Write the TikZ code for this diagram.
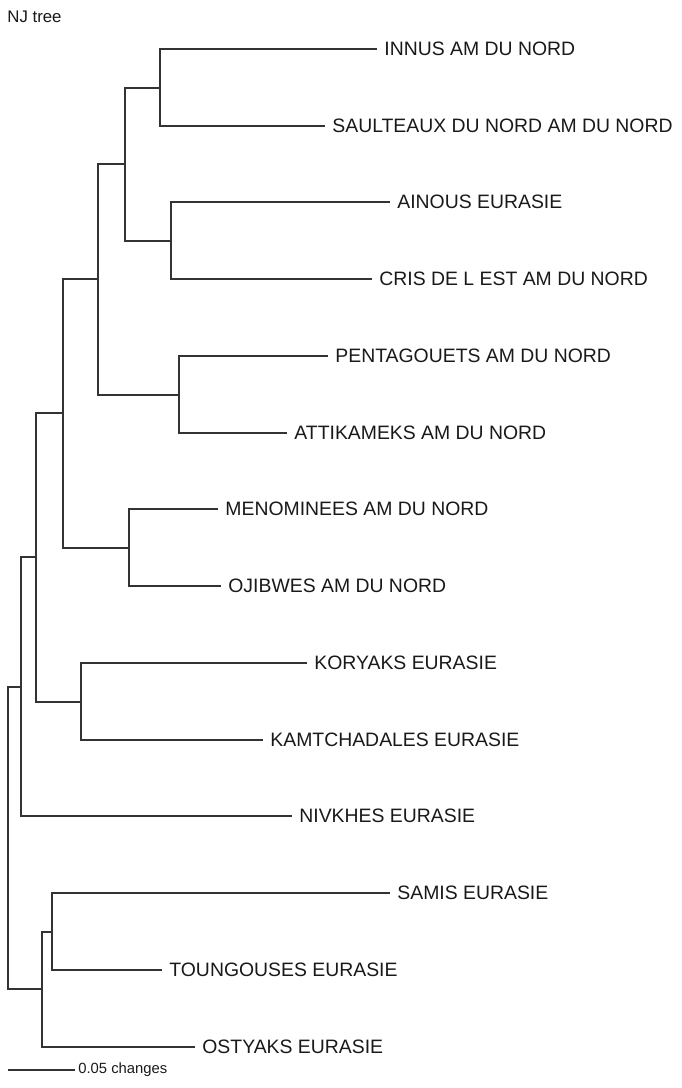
\documentclass[tikz,border=0pt]{standalone}
\usepackage{fontspec}
\setmainfont{Liberation Sans}
\begin{document}
\begin{tikzpicture}[x=0.5pt,y=-0.5pt,
  branch/.style={draw=black!80, line width=0.65pt},
  leaf/.style={anchor=west, inner xsep=3.5pt, inner ysep=0pt, text=black!90,
    font=\fontsize{9.7}{11}\selectfont},
  title/.style={anchor=west, inner sep=0pt, text=black!90, font=\fontsize{8.4}{9}\selectfont},
  scalelbl/.style={anchor=west, inner xsep=1.5pt, inner ysep=0pt, text=black!90, font=\fontsize{7.4}{8}\selectfont}]
\useasboundingbox (0,0) rectangle (681,1088);
\node[title] (nj) at (7,17) {NJ tree};
% leaves
\node[leaf] (innus) at (377,49) {INNUS AM DU NORD};
\node[leaf] (saul) at (325,126) {SAULTEAUX DU NORD AM DU NORD};
\node[leaf] (ainous) at (390,202) {AINOUS EURASIE};
\node[leaf] (cris) at (372,279) {CRIS DE L EST AM DU NORD};
\node[leaf] (pent) at (328,356) {PENTAGOUETS AM DU NORD};
\node[leaf] (atti) at (287,433) {ATTIKAMEKS AM DU NORD};
\node[leaf] (meno) at (218,509) {MENOMINEES AM DU NORD};
\node[leaf] (ojib) at (221,586) {OJIBWES AM DU NORD};
\node[leaf] (kory) at (307,663) {KORYAKS EURASIE};
\node[leaf] (kamt) at (263,740) {KAMTCHADALES EURASIE};
\node[leaf] (nivk) at (292,816) {NIVKHES EURASIE};
\node[leaf] (samis) at (390,893) {SAMIS EURASIE};
\node[leaf] (toung) at (162,970) {TOUNGOUSES EURASIE};
\node[leaf] (osty) at (195,1047) {OSTYAKS EURASIE};
% internal nodes
\coordinate (nA) at (160,88);
\coordinate (nB) at (125,164);
\coordinate (nC) at (171,241);
\coordinate (nD) at (98,279);
\coordinate (nE) at (179,395);
\coordinate (nF) at (63,413);
\coordinate (nG) at (129,548);
\coordinate (nH) at (36,557);
\coordinate (nI) at (81,702);
\coordinate (nJ) at (21,687);
\coordinate (nK) at (8,838);
\coordinate (nL) at (42,989);
\coordinate (nM) at (52,932);
% branches
\draw[branch] (nA) |- (innus.west);
\draw[branch] (nA) |- (saul.west);
\draw[branch] (nC) |- (ainous.west);
\draw[branch] (nC) |- (cris.west);
\draw[branch] (nB) |- (nA);
\draw[branch] (nB) |- (nC);
\draw[branch] (nE) |- (pent.west);
\draw[branch] (nE) |- (atti.west);
\draw[branch] (nD) |- (nB);
\draw[branch] (nD) |- (nE);
\draw[branch] (nG) |- (meno.west);
\draw[branch] (nG) |- (ojib.west);
\draw[branch] (nF) |- (nD);
\draw[branch] (nF) |- (nG);
\draw[branch] (nI) |- (kory.west);
\draw[branch] (nI) |- (kamt.west);
\draw[branch] (nH) |- (nF);
\draw[branch] (nH) |- (nI);
\draw[branch] (nJ) |- (nH);
\draw[branch] (nJ) |- (nivk.west);
\draw[branch] (nM) |- (samis.west);
\draw[branch] (nM) |- (toung.west);
\draw[branch] (nL) |- (nM);
\draw[branch] (nL) |- (osty.west);
\draw[branch] (nK) |- (nJ);
\draw[branch] (nK) |- (nL);
% scale bar
\coordinate (sb1) at (8,1070);
\node[scalelbl] (sbl) at (75,1070) {0.05 changes};
\draw[branch] (sb1) -- (sbl.west);
\end{tikzpicture}
\end{document}
